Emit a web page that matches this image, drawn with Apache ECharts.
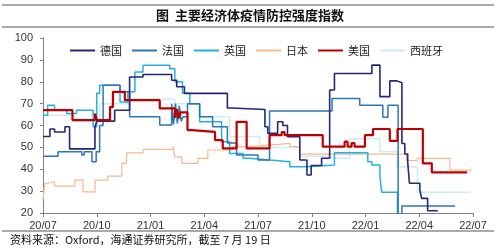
<!DOCTYPE html>
<html><head><meta charset="utf-8">
<script src="https://cdn.jsdelivr.net/npm/echarts@6/dist/echarts.min.js"></script>
<style>html,body{margin:0;padding:0;background:#fff}#c{width:500px;height:250px}</style>
</head><body><div id="c"></div>
<script>
// Step-change points (date, value)
const titleText = '图  主要经济体疫情防控强度指数';
const sourceText = '资料来源：Oxford，海通证券研究所，截至 7 月 19 日';
const seriesNames = ['德国','法国','英国','日本','美国','西班牙'];
const xTickLabels = ['20/07','20/10','21/01','21/04','21/07','21/10','22/01','22/04','22/07'];

const gerDates = ['2020-07-01','2020-07-13','2020-07-21','2020-08-08','2020-08-16','2020-09-28','2020-10-01','2020-11-01','2020-11-26','2020-12-19','2021-02-06','2021-02-14','2021-02-26','2021-05-10','2021-05-17','2021-07-13','2021-07-18','2021-08-04','2021-08-13','2021-08-21','2021-09-11','2021-09-23','2021-09-30','2021-10-18','2021-11-01','2021-11-09','2022-01-12','2022-01-26','2022-02-11','2022-02-22','2022-03-02','2022-03-07','2022-03-12','2022-03-15','2022-04-02','2022-04-05','2022-04-15','2022-05-02'];
const gerVals  = [55,58.4,57,59.4,49.3,59.5,62,67,82.2,83.3,80.7,77.7,74.7,68,67.3,59.4,56.4,61.7,60,54.9,44.2,37.4,41.7,45,76.2,83.8,87.6,73.2,80.4,79.5,51.8,47,43.4,33.6,30.5,26.7,21,21];

const fraDates = ['2020-07-01','2020-07-27','2020-09-06','2020-09-10','2020-09-23','2020-09-30','2020-10-06','2020-10-12','2020-11-10','2020-11-26','2021-01-17','2021-02-06','2021-02-09','2021-02-12','2021-02-15','2021-02-18','2021-02-21','2021-02-24','2021-03-03','2021-03-24','2021-04-15','2021-05-10','2021-05-26','2021-07-01','2021-07-21','2021-11-05','2021-12-22','2022-01-31','2022-02-08','2022-02-24','2022-03-02','2022-06-01'];
const fraVals  = [46,48,46.5,48,43.4,48,60,78.4,75.4,64,60.2,70,60.5,70,61,69,62,64,70,64,59.4,52,46.5,44.2,66.6,72.4,69.3,63.8,69.3,10,23.2,23.2];

const ukDates  = ['2020-07-01','2020-07-09','2020-07-21','2020-08-11','2020-08-28','2020-09-25','2020-10-01','2020-10-06','2020-11-10','2020-11-23','2020-12-05','2020-12-19','2021-02-03','2021-02-11','2021-02-23','2021-03-07','2021-03-24','2021-04-30','2021-05-14','2021-06-06','2021-06-17','2021-07-21','2021-08-25','2021-09-23','2021-11-09','2022-01-05','2022-01-12','2022-01-26','2022-01-29','2022-02-23','2022-06-29'];
const ukVals   = [64.7,69.3,67,65.5,67,59.4,74.8,78.4,70.8,75.4,84.5,87.6,86,80,74.7,70,61.7,52.6,47.2,45,44.2,43.4,41.1,41.9,47.5,43.4,41.9,36.6,29.5,11,11];

const jpnDates = ['2020-07-01','2020-07-04','2020-07-09','2020-07-21','2020-08-25','2020-09-08','2020-09-28','2020-10-20','2020-11-13','2020-11-21','2020-12-19','2021-02-08','2021-02-11','2021-02-22','2021-03-21','2021-04-07','2021-05-19','2021-06-17','2021-07-21','2021-08-25','2021-09-11','2022-03-10','2022-03-29','2022-05-23','2022-06-29'];
const jpnVals  = [26,33.6,34.3,32.3,35,29.7,35,36.9,42.7,47.5,49.1,50.6,45.7,42.7,45,48.8,50.3,51,51.8,50.3,46.9,44,45,39.6,39.6];

const usaDates = ['2020-07-01','2020-08-21','2020-09-28','2020-10-01','2020-10-24','2020-10-29','2020-11-18','2021-01-17','2021-02-11','2021-02-14','2021-02-17','2021-02-20','2021-03-03','2021-03-10','2021-04-19','2021-05-02','2021-05-26','2021-06-12','2021-07-21','2021-08-11','2021-08-16','2021-10-20','2021-11-26','2021-12-01','2021-12-08','2021-12-13','2021-12-31','2022-01-14','2022-02-11','2022-02-23','2022-04-07','2022-04-22','2022-06-21'];
const usaVals  = [67,62.5,65.5,62.5,68.5,75.4,71.6,67.8,63.5,67.5,63.2,66,57.9,57.1,53.3,49.5,61.7,49.5,55.6,57,55.6,50.3,52.6,50.3,52,50.3,55.6,58.4,53,58.4,42.7,38.6,38.6];

const espDates = ['2020-07-01','2020-08-25','2020-10-06','2020-11-26','2021-02-11','2021-03-24','2021-05-14','2021-07-04','2021-09-11','2021-11-01','2021-12-05','2022-01-26','2022-02-23','2022-03-29','2022-06-26'];
const espVals  = [64.7,62,70,72,70,64,55,50,46,45,54,48,41,29.5,29.5];

const colors = {'德国':'#26267a','法国':'#2e75b6','英国':'#22b2e2','日本':'#f6b88e','美国':'#c00000','西班牙':'#ccecf6'};
const widths = {'德国':1.6,'法国':1.5,'英国':1.5,'日本':1.2,'美国':2.2,'西班牙':1.5};

function monthIndex(d){
  const [y,m,dd] = d.split('-').map(Number);
  const dim = new Date(y, m, 0).getDate();
  return (y-2020)*12 + (m-7) + (dd-1)/dim;
}
function pairs(ds, vs){ return ds.map((d,i)=>[monthIndex(d), vs[i]]); }

const dataMap = {
  '西班牙': pairs(espDates, espVals),
  '日本': pairs(jpnDates, jpnVals),
  '英国': pairs(ukDates, ukVals),
  '法国': pairs(fraDates, fraVals),
  '德国': pairs(gerDates, gerVals),
  '美国': pairs(usaDates, usaVals)
};
const drawOrder = ['西班牙','日本','英国','法国','德国','美国'];

const chart = echarts.init(document.getElementById('c'), null, {renderer:'canvas'});
chart.setOption({
  animation:false,
  textStyle:{fontFamily:'Liberation Sans, Arial, sans-serif'},
  grid:{left:43,right:27,top:38,bottom:37},
  legend:{
    data:seriesNames, icon:'rect',
    left:65, top:40, itemWidth:25, itemHeight:2, itemGap:10,
    textStyle:{fontSize:11,color:'#222',fontFamily:'Noto Sans CJK SC'}
  },
  xAxis:{
    type:'value', min:0, max:24, interval:3,
    axisLine:{lineStyle:{color:'#808080'}},
    axisTick:{show:true,length:4,lineStyle:{color:'#808080'}},
    axisLabel:{fontSize:11,color:'#333',margin:7,formatter:v=>xTickLabels[Math.round(v/3)]},
    splitLine:{show:false}
  },
  yAxis:{
    type:'value', min:20, max:100, interval:10,
    axisLine:{show:true,lineStyle:{color:'#808080'}},
    axisTick:{show:true,length:3,lineStyle:{color:'#808080'}},
    axisLabel:{fontSize:11,color:'#333',margin:10},
    splitLine:{show:false}
  },
  series: drawOrder.map(n=>({
    name:n, type:'line', step:'end', symbol:'none', showSymbol:false,
    data:dataMap[n], clip:true,
    lineStyle:{color:colors[n],width:widths[n]}, itemStyle:{color:colors[n]}
  })),
  graphic:[
    {type:'line',shape:{x1:2,y1:5,x2:494,y2:5},style:{stroke:'#555',lineWidth:1}},
    {type:'line',shape:{x1:2,y1:27,x2:494,y2:27},style:{stroke:'#555',lineWidth:1}},
    {type:'text',left:'center',top:9,style:{text:titleText,font:'bold 13px "Noto Sans CJK SC"',fill:'#111'}},
    {type:'line',shape:{x1:2,y1:231,x2:494,y2:231},style:{stroke:'#555',lineWidth:1}},
    {type:'text',left:10,top:234,style:{text:sourceText,font:'11px "Noto Sans CJK SC"',fill:'#111'}}
  ]
});
</script></body></html>
